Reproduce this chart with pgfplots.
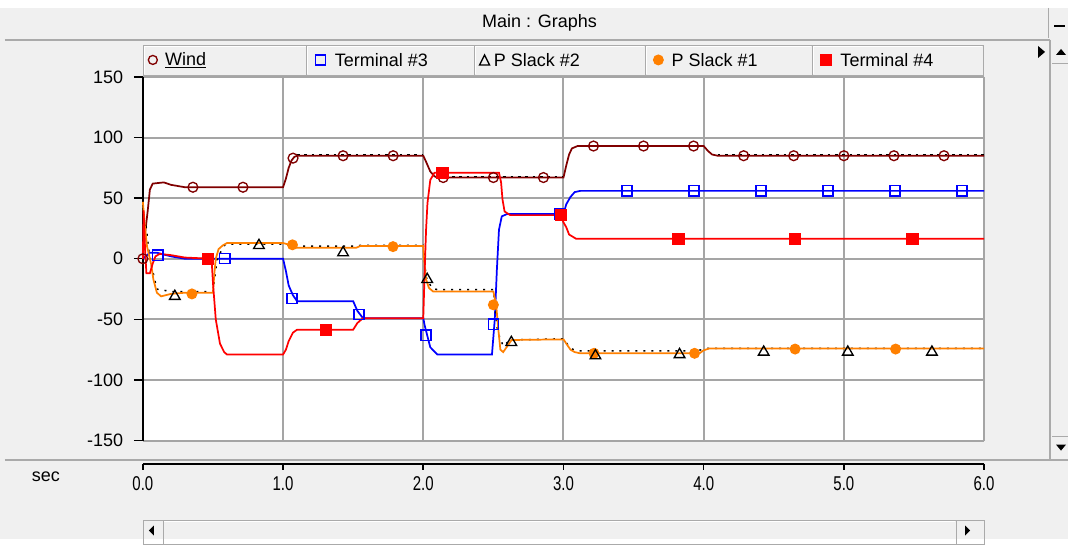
\documentclass[border=0pt]{standalone}
\usepackage{fontspec}
\setmainfont{Liberation Sans}
\usepackage{pgfplots}
\pgfplotsset{compat=1.18}

\definecolor{winbg}{RGB}{240,240,240}
\definecolor{gridgray}{RGB}{165,165,165}
\definecolor{edgegray}{RGB}{170,170,170}
\definecolor{windc}{RGB}{128,0,0}
\definecolor{term3c}{RGB}{0,0,255}
\definecolor{slack1c}{RGB}{255,128,0}
\definecolor{term4c}{RGB}{255,0,0}
\newcommand{\uifont}{\fontsize{13.5}{16}\selectfont}

\begin{document}
\begin{tikzpicture}
% window frame, 1 unit = 1 screen pixel
\begin{scope}[x=0.75pt,y=-0.75pt]
  \useasboundingbox (0,0) rectangle (1069,539);
  \fill[winbg] (0,0) rectangle (1069,539);
  \fill[white] (0,0) rectangle (1069,8);
  \draw[edgegray, line width=1.5pt] (5,40) -- (1051,40);
  \node[font=\uifont] at (540,23) {Main : Graphs};
  \draw[black, line width=1.5pt] (1055,26) -- (1066,26);
  \draw[edgegray] (1049,8) -- (1049,38);
\end{scope}

\begin{axis}[
  at={(107.25pt,-330.75pt)}, anchor=south west,
  scale only axis, width=631.5pt, height=273pt,
  xmin=0, xmax=6, ymin=-150, ymax=150,
  xtick={0,1,...,6}, ytick={-150,-100,...,150},
  xticklabels={}, yticklabels={-150,-100,-50,0,50,100,150},
  grid=major, major grid style={gridgray, line width=1.5pt},
  axis x line*=bottom, axis y line*=left,
  x axis line style={draw=none},
  y axis line style={black, line width=1.3pt},
  major x tick style={draw=none},
  tick align=outside, major tick length=6.75pt,
  major y tick style={black, line width=1.1pt},
  axis background/.style={fill=white},
  clip=false,
  yticklabel style={font=\uifont, anchor=east, xshift=-4.5pt},
  every axis plot/.append style={line width=1.3pt},
  mark options={solid, line width=1pt},
]
% Wind
\addplot[windc, no marks] coordinates {
 (0,0)(0.015,20)(0.035,40)(0.05,57)(0.07,62)(0.15,63)(0.2,61)(0.3,59)(1.0,59)
 (1.02,66)(1.04,75)(1.06,81)(1.08,84)(1.1,85)(2.0,85)(2.02,80)(2.05,72)(2.08,68)
 (2.1,67)(3.0,67)(3.02,77)(3.04,86)(3.06,91)(3.1,93)(4.0,93)(4.03,89)(4.06,86)
 (4.1,85)(6,85)};
\addplot[black, line width=1pt, dash pattern=on 2pt off 3.5pt, unbounded coords=jump] coordinates {
 (1.1,86)(2.0,86)(2.0,nan)(2.1,68)(3.0,68)(3.0,nan)(4.1,86)(6,86)};
\addplot[windc, only marks, mark=o, mark size=3.7pt] coordinates {
 (0,0)(0.357,59)(0.714,59)(1.071,83)(1.428,85)(1.785,85)(2.142,67)(2.5,67)
 (2.857,67)(3.214,93)(3.571,93)(3.928,93)(4.285,85)(4.642,85)(5.0,85)(5.357,85)(5.714,85)};
% Terminal #3
\addplot[term3c, no marks] coordinates {
 (0,0)(0.05,5)(0.1,5)(0.2,2)(0.3,0)(1.0,0)(1.02,-10)(1.04,-22)(1.07,-30)(1.1,-35)
 (1.5,-35)(1.53,-43)(1.57,-49)(2.0,-49)(2.01,-55)(2.03,-64)(2.05,-73)(2.1,-79)
 (2.49,-79)(2.51,-50)(2.525,-9)(2.54,24)(2.56,35)(2.6,37)(3.0,37)(3.02,45)
 (3.05,51)(3.08,55)(3.12,56)(6,56)};
\addplot[term3c, only marks, mark=square, mark size=3.8pt] coordinates {
 (0.107,3)(0.585,0)(1.063,-33)(1.541,-46)(2.019,-63)(2.5,-54)(2.975,37)(3.453,56)
 (3.931,56)(4.409,56)(4.887,56)(5.365,56)(5.843,56)};
% P Slack #2
\addplot[black, line width=1.1pt, dash pattern=on 1.5pt off 4.5pt] coordinates {
 (0,0)(0.02,30)(0.05,0)(0.1,-25)(0.2,-27)(0.5,-27)(0.53,0)(0.58,11)(0.62,12)
 (1.0,12)(1.05,11)(1.1,10.5)(1.5,10.5)(1.55,11)(2.0,11)(2.02,-15)(2.06,-24)
 (2.1,-25.5)(2.5,-25.5)(2.53,-60)(2.57,-72)(2.62,-67)(3.0,-66)(3.05,-74)
 (3.1,-76)(3.95,-76)(4.02,-74)(6,-74)};
% P Slack #1
\addplot[slack1c, no marks] coordinates {
 (0,47)(0.015,26)(0.03,10)(0.06,-5)(0.075,-17)(0.1,-28)(0.13,-31)(0.2,-29)
 (0.3,-28)(0.5,-28)(0.51,-12)(0.52,0)(0.54,8)(0.57,11)(0.6,13)(1.0,13)
 (1.03,12)(1.06,10.5)(1.1,9)(1.52,9)(1.55,10.5)(2.0,10.5)(2.005,0)(2.02,-17)
 (2.04,-24)(2.07,-27)(2.5,-27)(2.52,-38)(2.535,-58)(2.55,-75)(2.57,-77)(2.6,-72)
 (2.63,-67)(3.0,-66.5)(3.02,-70)(3.05,-75)(3.08,-77)(3.12,-78)(3.97,-78)
 (4.0,-75.5)(4.04,-74)(6,-74)};
\addplot[slack1c, only marks, mark=*, mark size=3.6pt] coordinates {
 (0.35,-29)(1.067,11.5)(1.784,10)(2.5,-38)(3.218,-78)(3.935,-78)(4.652,-74.5)(5.369,-74.5)};
% Terminal #4
\addplot[term4c, no marks] coordinates {
 (0,0)(0.005,40)(0.015,10)(0.025,-12)(0.05,-12)(0.07,-4)(0.09,2)(0.12,4)(0.2,3)
 (0.3,1)(0.49,0)(0.5,-20)(0.52,-50)(0.55,-70)(0.58,-77)(0.6,-79)(1.0,-79)
 (1.02,-75)(1.04,-68)(1.07,-61)(1.1,-58.5)(1.5,-58.5)(1.53,-53)(1.57,-49)
 (2.0,-49)(2.01,-10)(2.02,24)(2.03,46)(2.05,65)(2.08,71)(2.54,71)(2.555,63)
 (2.565,49)(2.58,39)(2.62,36)(2.98,36)(3.0,30)(3.02,26)(3.04,20)(3.09,16.5)(6,16.5)};
\addplot[term4c, only marks, mark=square*, mark size=4.1pt] coordinates {
 (0.463,0)(1.304,-59)(2.138,71)(2.98,36)(3.82,16.5)(4.65,16.5)(5.49,16.5)};
% P Slack #2 markers
\addplot[black, only marks, mark=triangle, mark size=4.6pt] coordinates {
 (0.228,-31)(0.828,11)(1.428,5)(2.028,-17)(2.628,-69)(3.228,-80)(3.828,-79)
 (4.428,-77)(5.028,-77)(5.628,-77)};
\end{axis}

\begin{scope}[x=0.75pt,y=-0.75pt]
  % legend row
  \foreach \a/\b in {143/307,307/475,475/646,646/813,813/984}{
    \draw[edgegray, fill=winbg] (\a,45) rectangle (\b,75);
    \draw[white] (\a+1,74) -- (\a+1,46) -- (\b-1,46);
  }
  \draw[windc, line width=1pt] (153,60) circle (4.5);
  \node[font=\uifont, anchor=west, inner sep=0pt] at (165,60) {\underline{Wind}};
  \draw[term3c, line width=1pt] (316,55) rectangle (326,65);
  \node[font=\uifont, anchor=west, inner sep=0pt] at (335,60) {Terminal \#3};
  \draw[black, line width=1pt] (480,65) -- (490,65) -- (485,55) -- cycle;
  \node[font=\uifont, anchor=west, inner sep=0pt] at (494,60) {P Slack \#2};
  \fill[slack1c] (659,60) circle (5.5);
  \node[font=\uifont, anchor=west, inner sep=0pt] at (672,60) {P Slack \#1};
  \fill[term4c] (821,54) rectangle (833,66);
  \node[font=\uifont, anchor=west, inner sep=0pt] at (841,60) {Terminal \#4};
  \fill[black] (1039,46) -- (1039,58) -- (1046,52) -- cycle;
  % right scrollbar
  \draw[edgegray, line width=1pt] (1051,40) -- (1051,460);
  \draw[edgegray] (1053,63) -- (1069,63);
  \draw[edgegray] (1053,437) -- (1069,437);
  \fill[black] (1057,55) -- (1067,55) -- (1062,49) -- cycle;
  \fill[black] (1057,445) -- (1067,445) -- (1062,451) -- cycle;
  % separator and time ruler
  \draw[edgegray, line width=1.5pt] (5,460) -- (1069,460);
  \draw[black, line width=1.5pt] (143,464) -- (985,464);
  \foreach \i in {0,...,6}{
    \draw[black, line width=1.2pt] (143+140.33*\i,464) -- (143+140.33*\i,470);
    \node[font=\fontsize{15}{17}\selectfont] at (143+140.33*\i,484) {\scalebox{0.75}[1]{\i.0}};
  }
  \node[font=\uifont] at (46,477) {sec};
  % bottom scrollbar
  \draw[edgegray] (143,521) rectangle (985,545);
  \draw[edgegray] (163,521) -- (163,545);
  \draw[edgegray] (957,521) -- (957,545);
  \draw[white] (164,522) -- (956,522);
  \fill[black] (154,526) -- (154,536) -- (149,531) -- cycle;
  \fill[black] (966,526) -- (966,536) -- (971,531) -- cycle;
\end{scope}
\end{tikzpicture}
\end{document}
